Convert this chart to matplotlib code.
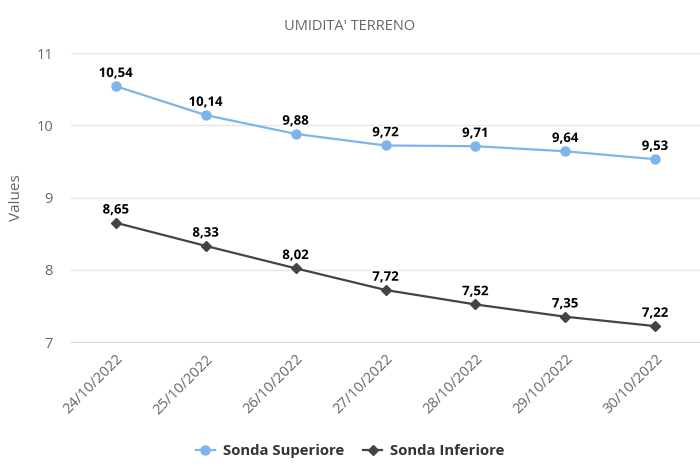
import matplotlib
matplotlib.use("Agg")
import matplotlib.pyplot as plt
import matplotlib.patheffects as pe

categories = ["24/10/2022", "25/10/2022", "26/10/2022", "27/10/2022",
              "28/10/2022", "29/10/2022", "30/10/2022"]
sonda_superiore = [10.54, 10.14, 9.88, 9.72, 9.71, 9.64, 9.53]
sonda_inferiore = [8.65, 8.33, 8.02, 7.72, 7.52, 7.35, 7.22]
y_ticks = [7, 8, 9, 10, 11]

plt.rcParams['font.family'] = ['Open Sans', 'DejaVu Sans']

fig = plt.figure(figsize=(7.0, 4.73), dpi=100)
ax = fig.add_axes([71/700, 1 - 342/473, 629/700, (342 - 53)/473])

x = list(range(len(categories)))
ax.plot(x, sonda_superiore, color='#7cb5ec', lw=1.6, marker='o', ms=6.5,
        label='Sonda Superiore', zorder=3)
ax.plot(x, sonda_inferiore, color='#434348', lw=1.6, marker='D', ms=4.8,
        label='Sonda Inferiore', zorder=3)

for series in (sonda_superiore, sonda_inferiore):
    for xi, v in zip(x, series):
        ax.annotate(f"{v:.2f}".replace('.', ','), (xi, v), xytext=(0, 4.5),
                    textcoords='offset points', ha='center', va='bottom',
                    fontsize=9.5, fontweight='bold', color='black',
                    path_effects=[pe.withStroke(linewidth=2.2, foreground='white')],
                    zorder=4)

ax.set_xlim(-0.5, len(categories) - 0.5)
ax.set_ylim(7, 11)
ax.set_yticks(y_ticks)
ax.set_yticklabels([str(t) for t in y_ticks])
ax.set_xticks(x)
ax.set_xticklabels(categories, rotation=45, ha='right', rotation_mode='anchor')

ax.grid(axis='y', color='#e6e6e6', lw=1)
ax.set_axisbelow(True)
for s in ['left', 'right', 'top']:
    ax.spines[s].set_visible(False)
ax.spines['bottom'].set_color('#ccd6eb')
ax.tick_params(axis='both', length=0, colors='#666666', labelsize=10.5)
ax.tick_params(axis='x', pad=7)
ax.tick_params(axis='y', pad=13)

ax.set_ylabel('Values', color='#666666', fontsize=11)
ax.yaxis.set_label_coords((24 - 71) / 629, 0.5)

fig.text(0.5, 1 - 26/473, "UMIDITA' TERRENO", ha='center', va='center',
         color='#666666', fontsize=10.5)

leg = fig.legend(loc='center', bbox_to_anchor=(0.5, 1 - 451/473), ncol=2,
                 frameon=False, prop={'weight': 'bold', 'size': 10.7},
                 handlelength=1.3, columnspacing=1.3, handletextpad=0.5)
for t in leg.get_texts():
    t.set_color('#333333')

fig.savefig('out.png', dpi=100)
